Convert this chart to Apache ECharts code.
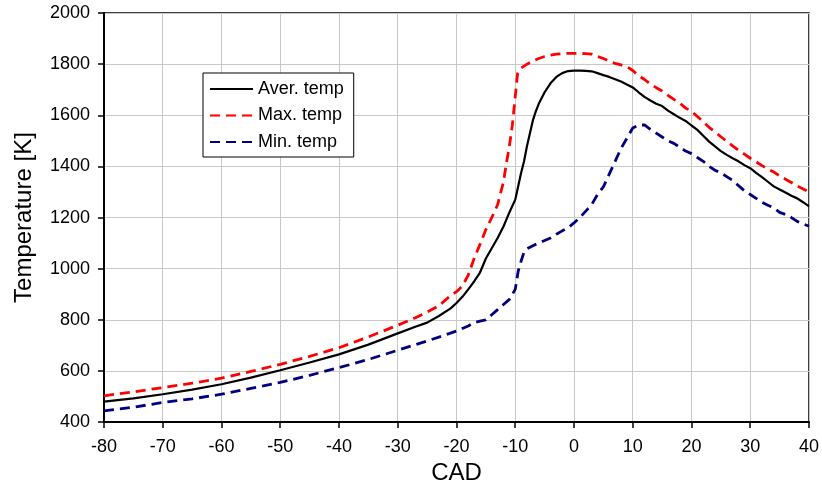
<!DOCTYPE html>
<html>
<head>
<meta charset="utf-8">
<script src="https://cdn.jsdelivr.net/npm/echarts@6/dist/echarts.min.js"></script>
<style>
  html, body { margin: 0; padding: 0; background: #fff; }
  #chart { width: 822px; height: 490px; }
</style>
</head>
<body>
<div id="chart"></div>
<script>
// values
const cadAver = [-80, -75, -70, -65, -60, -55, -50, -45, -40, -35, -30, -27, -25, -23, -21, -20, -19, -18, -17, -16, -15, -14, -13, -12, -11, -10, -9.5, -9, -8.5, -8, -7.5, -7, -6.5, -6, -5, -4, -3, -2, -1, 0, 1, 2, 3, 4, 5, 6, 7, 8, 9, 10, 11, 12, 13, 14, 15, 16, 17, 18, 19, 20, 21, 22, 23, 24, 25, 26, 27, 28, 29, 30, 31, 32, 33, 34, 35, 36, 37, 38, 39, 40]
const tempAver = [480, 493, 509, 527, 548, 574, 603, 633, 665, 703, 747, 773, 789, 815, 845, 866, 890, 919, 950, 985, 1040, 1080, 1120, 1165, 1220, 1270, 1322, 1375, 1420, 1480, 1530, 1580, 1615, 1645, 1690, 1725, 1750, 1765, 1773, 1775, 1775, 1774, 1772, 1765, 1757, 1750, 1741, 1732, 1720, 1709, 1690, 1672, 1658, 1645, 1636, 1618, 1604, 1590, 1578, 1560, 1543, 1520, 1497, 1478, 1460, 1445, 1432, 1420, 1405, 1393, 1375, 1358, 1340, 1322, 1310, 1298, 1285, 1275, 1260, 1244]

const cadMax = [-80, -75, -70, -65, -60, -55, -50, -45, -40, -35, -30, -27, -25, -23, -21, -20, -19, -18, -17, -16, -15, -14, -13, -12, -11.5, -11, -10.5, -10, -9.6, -9, -8, -7, -6, -5, -4, -3, -2, -1, 0, 1, 2, 3, 4, 5, 6, 7, 8, 9, 10, 11, 12, 13, 14, 15, 16, 17, 18, 19, 20, 21, 22, 23, 24, 25, 26, 27, 28, 29, 30, 31, 32, 33, 34, 35, 36, 37, 38, 39, 40]
const tempMax = [503, 518, 535, 552, 572, 598, 626, 657, 691, 733, 779, 808, 830, 855, 895, 910, 932, 975, 1040, 1095, 1153, 1200, 1250, 1340, 1413, 1480, 1560, 1673, 1764, 1785, 1800, 1812, 1822, 1830, 1835, 1839, 1841, 1842, 1842, 1842, 1841, 1839, 1830, 1822, 1812, 1803, 1797, 1790, 1775, 1755, 1740, 1722, 1708, 1695, 1678, 1662, 1648, 1628, 1616, 1595, 1575, 1553, 1535, 1516, 1498, 1480, 1463, 1448, 1432, 1418, 1403, 1390, 1378, 1363, 1350, 1337, 1323, 1312, 1300]

const cadMin = [-80, -75, -70, -65, -60, -55, -50, -45, -40, -35, -30, -25, -20, -18, -17, -16, -15, -14, -13, -12, -11, -10, -9.5, -9, -8.5, -8, -7, -6, -5, -4, -3, -2, -1, 0, 1, 2, 3, 4, 5, 6, 7, 8, 9, 10, 11, 12, 13, 14, 15, 16, 17, 18, 19, 20, 21, 22, 23, 24, 25, 26, 27, 28, 29, 30, 31, 32, 33, 34, 35, 36, 37, 38, 39, 40]
const tempMin = [444, 458, 477, 491, 509, 532, 555, 583, 613, 645, 681, 717, 756, 776, 789, 795, 800, 820, 840, 860, 880, 919, 990, 1030, 1065, 1078, 1090, 1100, 1110, 1120, 1135, 1148, 1160, 1179, 1200, 1225, 1250, 1290, 1320, 1370, 1420, 1470, 1510, 1550, 1562, 1562, 1545, 1530, 1515, 1500, 1490, 1475, 1460, 1450, 1435, 1420, 1400, 1385, 1375, 1360, 1345, 1325, 1305, 1290, 1275, 1260, 1248, 1238, 1220, 1212, 1200, 1185, 1175, 1166]

const seriesNames = ['Aver. temp', 'Max. temp', 'Min. temp']

const FONT = 'Liberation Sans, Arial, sans-serif'

function pairs(xs, ys) {
  return xs.map((x, i) => [x, ys[i]])
}

const chart = echarts.init(document.getElementById('chart'))

chart.setOption({
  animation: false,
  backgroundColor: '#fff',
  textStyle: { fontFamily: FONT },
  grid: {
    left: 104,
    right: 10,
    top: 13,
    bottom: 67,
    show: true,
    borderColor: '#000',
    borderWidth: 1.5,
  },
  legend: {
    data: seriesNames,
    orient: 'vertical',
    left: 203,
    top: 73,
    itemWidth: 43,
    itemHeight: 14,
    itemGap: 8.5,
    padding: [7, 10, 6, 6],
    backgroundColor: '#fff',
    borderColor: '#000',
    borderWidth: 1,
    itemStyle: { opacity: 0 },
    textStyle: { color: '#000', fontSize: 18, fontFamily: FONT },
  },
  xAxis: {
    type: 'value',
    min: -80,
    max: 40,
    interval: 10,
    name: 'CAD',
    nameLocation: 'middle',
    nameGap: 36,
    nameTextStyle: { color: '#000', fontSize: 24, fontFamily: FONT },
    axisLine: { onZero: false, lineStyle: { color: '#000', width: 2 } },
    axisTick: { show: true, length: 6, lineStyle: { color: '#000', width: 1.5 } },
    axisLabel: { color: '#000', fontSize: 18, margin: 16, fontFamily: FONT },
    splitLine: { show: true, lineStyle: { color: '#c8c8c8', width: 1 } },
  },
  yAxis: {
    type: 'value',
    min: 400,
    max: 2000,
    interval: 200,
    name: 'Temperature [K]',
    nameLocation: 'middle',
    nameGap: 68,
    nameTextStyle: { color: '#000', fontSize: 24, fontFamily: FONT },
    axisLine: { show: true, onZero: false, lineStyle: { color: '#000', width: 2 } },
    axisTick: { show: true, length: 6, lineStyle: { color: '#000', width: 1.5 } },
    axisLabel: { color: '#000', fontSize: 18, margin: 14, fontFamily: FONT, formatter: (v) => String(v) },
    splitLine: { show: true, lineStyle: { color: '#c8c8c8', width: 1 } },
  },
  series: [
    {
      name: seriesNames[0],
      type: 'line',
      symbol: 'none',
      data: pairs(cadAver, tempAver),
      lineStyle: { color: '#000', width: 2.2 },
      itemStyle: { color: '#000' },
      z: 4,
    },
    {
      name: seriesNames[1],
      type: 'line',
      symbol: 'none',
      data: pairs(cadMax, tempMax),
      lineStyle: { color: '#ff0000', width: 2.8, type: [10, 6] },
      itemStyle: { color: '#ff0000' },
      z: 3,
    },
    {
      name: seriesNames[2],
      type: 'line',
      symbol: 'none',
      data: pairs(cadMin, tempMin),
      lineStyle: { color: '#000080', width: 2.8, type: [10, 6] },
      itemStyle: { color: '#000080' },
      z: 3,
    },
  ],
})
</script>
</body>
</html>
